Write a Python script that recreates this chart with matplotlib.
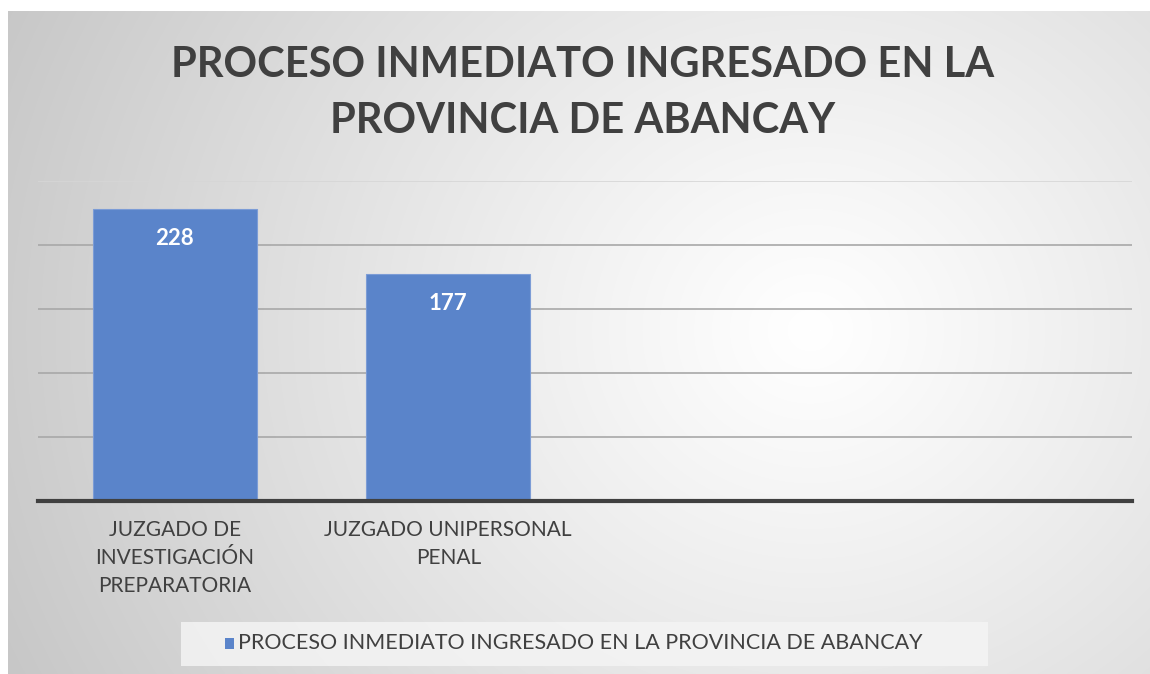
import numpy as np
import matplotlib
matplotlib.use("Agg")
import matplotlib.pyplot as plt
from matplotlib.patches import Rectangle

# data
categories = ["JUZGADO DE\nINVESTIGACIÓN\nPREPARATORIA", "JUZGADO UNIPERSONAL\nPENAL", "", ""]
values = [228, 177, np.nan, np.nan]
series_name = "PROCESO INMEDIATO INGRESADO EN LA PROVINCIA DE ABANCAY"
title = "PROCESO INMEDIATO INGRESADO EN LA\nPROVINCIA DE ABANCAY"
y_ticks = [0, 50, 100, 150, 200, 250]

W, H = 1150, 674
bar_color = "#5a84ca"
text_color = "#404040"
plt.rcParams['font.family'] = ['Lato', 'DejaVu Sans']

fig = plt.figure(figsize=(W / 100, H / 100), dpi=100)
fig.patch.set_facecolor("white")

# radial gradient background of the chart area
bg = fig.add_axes([8 / W, 0, 1 - 8 / W, 1 - 11 / H])
bg.set_axis_off()
yy, xx = np.mgrid[11:H, 8:W]
d = np.hypot(xx - 810, (yy - 330) * 1.1) / 850
shade = 1.0 - 0.21 * np.clip(d, 0, 1.2) ** 1.1
bg.imshow(np.dstack([shade] * 3), aspect="auto", extent=[0, 1, 0, 1])
bg.set_xlim(0, 1)
bg.set_ylim(0, 1)

# plot area
ax = fig.add_axes([38 / W, 1 - 501 / H, (1132 - 38) / W, (501 - 181) / H])
ax.patch.set_alpha(0)
x = np.arange(len(categories))
ax.set_xlim(-0.5, len(categories) - 0.5)
ax.set_ylim(y_ticks[0], y_ticks[-1])

for t in y_ticks[1:]:
    ax.axhline(t, color="#d6d6d6" if t == y_ticks[-1] else "#a8a8a8", lw=1.2, zorder=1)

bars = ax.bar(x, values, width=0.6, color=bar_color, edgecolor="#7c9cd6", linewidth=0.8, zorder=2)
for xi, v in zip(x, values):
    if np.isfinite(v):
        ax.annotate(f"{v:g}", (xi, v), xytext=(0, -21), textcoords="offset points",
                    ha="center", va="center", color="white", fontsize=16, fontweight="bold", zorder=3)

ax.axhline(0, color="#404040", lw=3, zorder=3, clip_on=False)
for s in ax.spines.values():
    s.set_visible(False)
ax.set_yticks([])
ax.set_xticks(x)
ax.set_xticklabels(categories, fontsize=15, color=text_color, linespacing=1.5)
ax.tick_params(axis="x", length=0, pad=14)

fig.text(583 / W, 1 - 93 / H, title, ha="center", va="center", fontsize=30,
         fontweight="bold", color=text_color, linespacing=1.6)

# legend box
fig.patches.append(Rectangle((181 / W, 1 - 666 / H), (988 - 181) / W, 44 / H,
                             transform=fig.transFigure, facecolor="#f4f4f4", alpha=0.85,
                             edgecolor="none"))
fig.patches.append(Rectangle((225 / W, 1 - 649 / H), 9 / W, 11 / H,
                             transform=fig.transFigure, facecolor=bar_color, edgecolor="none"))
fig.text(238 / W, 1 - 643 / H, series_name, ha="left", va="center",
         fontsize=15.5, color=text_color)

fig.savefig("out.png", dpi=100)
